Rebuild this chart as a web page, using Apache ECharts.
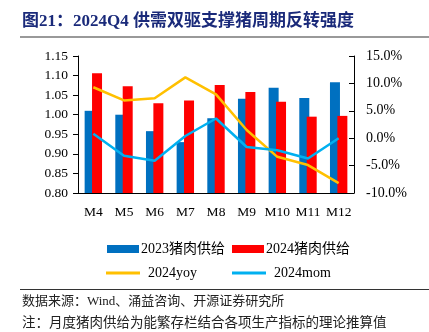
<!DOCTYPE html>
<html><head><meta charset="utf-8">
<script src="https://cdn.jsdelivr.net/npm/echarts@6/dist/echarts.min.js"></script>
<style>html,body{margin:0;padding:0;background:#fff}#c{width:429px;height:332px}</style>
</head><body><div id="c"></div>
<script>
const categories = ['M4','M5','M6','M7','M8','M9','M10','M11','M12'];
const supply2023 = [1.010, 1.000, 0.958, 0.930, 0.991, 1.041, 1.069, 1.043, 1.083];
const supply2024 = [1.106, 1.073, 1.029, 1.036, 1.076, 1.058, 1.033, 0.995, 0.997];
const yoy2024 = [9.3, 6.9, 7.3, 11.1, 8.0, 1.5, -3.4, -4.9, -8.2];
const mom2024 = [0.8, -3.2, -4.1, 0.4, 3.6, -1.6, -2.2, -3.7, 0.0];
const names = ['2023猪肉供给','2024猪肉供给','2024yoy','2024mom'];

const serif = '"Liberation Serif","Times New Roman",serif';
const cjk = '"Liberation Serif","Noto Sans CJK SC",serif';
const chart = echarts.init(document.getElementById('c'), null, {renderer:'canvas'});
chart.setOption({
  animation:false,
  backgroundColor:'#fff',
  grid:{left:78, right:75, top:56, bottom:139},
  legend:[
    {data:[names[0]], left:102, top:237, itemWidth:32, itemHeight:8, icon:'rect', itemGap:0, textStyle:{fontFamily:cjk, fontSize:14, color:'#000', padding:[0,0,0,-3]}},
    {data:[names[1]], left:227, top:237, itemWidth:32, itemHeight:8, icon:'rect', itemGap:0, textStyle:{fontFamily:cjk, fontSize:14, color:'#000', padding:[0,0,0,-3]}},
    {data:[names[2]], left:101, top:261, itemWidth:34, itemHeight:3, icon:'rect', textStyle:{fontFamily:serif, fontSize:14, color:'#000', padding:[0,0,0,3]}},
    {data:[names[3]], left:227, top:261, itemWidth:34, itemHeight:3, icon:'rect', textStyle:{fontFamily:serif, fontSize:14, color:'#000', padding:[0,0,0,3]}}
  ],
  xAxis:{type:'category', data:categories,
    axisLine:{onZero:false, lineStyle:{color:'#000', width:1}},
    axisTick:{inside:true, length:5, lineStyle:{color:'#000'}},
    axisLabel:{interval:0, fontFamily:serif, fontSize:13.5, color:'#000', margin:12}},
  yAxis:[
    {type:'value', min:0.8, max:1.15, interval:0.05, splitLine:{show:false},
     axisLine:{show:true, lineStyle:{color:'#000'}},
     axisTick:{show:true, length:5, lineStyle:{color:'#000'}},
     axisLabel:{fontFamily:serif, fontSize:13.5, color:'#000', margin:10, formatter:v=>v.toFixed(2)}},
    {type:'value', min:-10, max:15, interval:5, splitLine:{show:false}, position:'right',
     axisLine:{show:true, lineStyle:{color:'#000'}},
     axisTick:{show:true, inside:true, length:5, lineStyle:{color:'#000'}},
     axisLabel:{fontFamily:serif, fontSize:14, color:'#000', margin:12, formatter:v=>v.toFixed(1)+'%'}}
  ],
  series:[
    {name:names[0], type:'bar', data:supply2023, barWidth:10, barGap:'-26%', itemStyle:{color:'#0070C0'}},
    {name:names[1], type:'bar', data:supply2024, barWidth:10, barGap:'-26%', itemStyle:{color:'#FF0000'}},
    {name:names[2], type:'line', yAxisIndex:1, data:yoy2024, symbol:'none', lineStyle:{color:'#FFC000', width:2.5}, itemStyle:{color:'#FFC000'}},
    {name:names[3], type:'line', yAxisIndex:1, data:mom2024, symbol:'none', lineStyle:{color:'#00B0F0', width:2.5}, itemStyle:{color:'#00B0F0'}}
  ],
  graphic:[
    {type:'text', left:22, top:13, style:{text:'图21：2024Q4 供需双驱支撑猪周期反转强度', font:'bold 17px "Liberation Serif","Noto Sans CJK SC",serif', fill:'#1a2a7a'}},
    {type:'line', shape:{x1:20, y1:37, x2:429, y2:37}, style:{stroke:'#999', lineWidth:2}},
    {type:'line', shape:{x1:20, y1:289.5, x2:429, y2:289.5}, style:{stroke:'#333', lineWidth:1}},
    {type:'text', left:22, top:295, style:{text:'数据来源：Wind、涌益咨询、开源证券研究所', font:'13px "Liberation Serif","Noto Sans CJK SC",serif', fill:'#222'}},
    {type:'text', left:22, top:315, style:{text:'注：月度猪肉供给为能繁存栏结合各项生产指标的理论推算值', font:'13.5px "Noto Sans CJK SC",serif', fill:'#222'}}
  ]
});
</script></body></html>
